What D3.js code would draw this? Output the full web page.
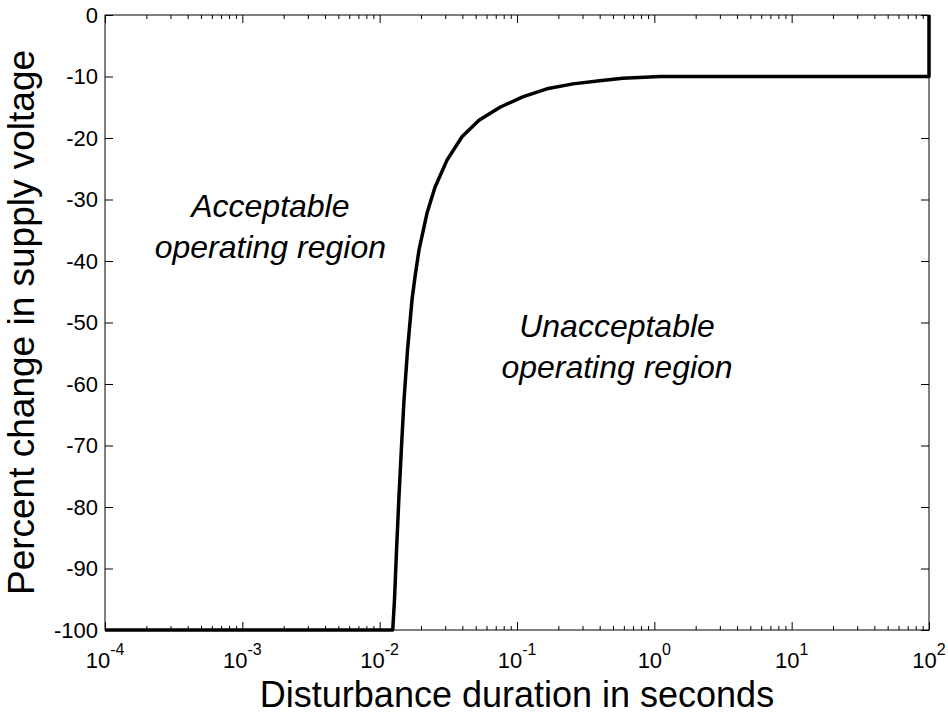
<!DOCTYPE html>
<html lang="en">
<head>
  <meta charset="UTF-8">
  <title>Voltage tolerance curve</title>
  <style>
    body, html {
      margin: 0;
      padding: 0;
      background: #fff;
    }
    svg text {
      font-family: Arial, "Liberation Sans", Helvetica, sans-serif;
      fill: #000;
    }
  </style>
</head>
<body>
  <svg id="svg" width="948" height="714"></svg>
  <script src="https://d3js.org/d3.v7.min.js"></script>
  <script>
    // curve: duration (s) vs percent change in voltage
    const durations = [1e-4, 0.01245, 0.01282, 0.01327, 0.01378, 0.01438, 0.01504, 0.01595, 0.0172, 0.01808,
      0.01934, 0.02212, 0.02529, 0.03093, 0.03977, 0.05289, 0.0752, 0.11, 0.165, 0.256, 0.40, 0.59, 1.1, 100, 100]
    const voltageChange = [-100, -100, -95.1, -87, -78.9, -70.7, -62.6, -54.5, -46.3, -42.6,
      -38.2, -32.2, -28, -23.6, -19.8, -17.1, -15, -13.3, -12, -11.2, -10.7, -10.3, -10, -10, 0]

    const xMajorTicks = [1e-4, 1e-3, 1e-2, 1e-1, 1, 10, 100]
    const xTickExponents = ['-4', '-3', '-2', '-1', '0', '1', '2']
    const yTicks = [0, -10, -20, -30, -40, -50, -60, -70, -80, -90, -100]

    const regionLabels = [
      { lines: ['Acceptable', 'operating region'], x: 1.6e-3, y: -32.8 },
      { lines: ['Unacceptable', 'operating region'], x: 0.535, y: -52.4 }
    ]

    const xTitle = 'Disturbance duration in seconds'
    const yTitle = 'Percent change in supply voltage'

    const margin = { left: 105, right: 19, top: 15, bottom: 84 }
    const width = 948
    const height = 714
    const innerW = width - margin.left - margin.right
    const innerH = height - margin.top - margin.bottom

    const svg = d3.select('#svg')
    const g = svg.append('g').attr('transform', `translate(${margin.left},${margin.top})`)

    const x = d3.scaleLog().domain([1e-4, 100]).range([0, innerW])
    const y = d3.scaleLinear().domain([-100, 0]).range([innerH, 0])

    // minor log ticks 2..9 per decade
    const xMinorTicks = []
    for (let e = -4; e < 2; e++) {
      for (let m = 2; m <= 9; m++) xMinorTicks.push(m * Math.pow(10, e))
    }

    // frame
    g.append('rect')
      .attr('width', innerW)
      .attr('height', innerH)
      .attr('fill', 'none')
      .attr('stroke', '#000')
      .attr('stroke-width', 1)

    function styleAxis(sel) {
      sel.select('.domain').remove()
      sel.selectAll('line').attr('stroke', '#000').attr('stroke-width', 1)
      sel.selectAll('text').remove()
    }

    // inward ticks on all four sides
    g.append('g').attr('transform', `translate(0,${innerH})`)
      .call(d3.axisBottom(x).tickValues(xMajorTicks).tickSize(-8)).call(styleAxis)
    g.append('g').attr('transform', `translate(0,${innerH})`)
      .call(d3.axisBottom(x).tickValues(xMinorTicks).tickSize(-4)).call(styleAxis)
    g.append('g')
      .call(d3.axisTop(x).tickValues(xMajorTicks).tickSize(-8)).call(styleAxis)
    g.append('g')
      .call(d3.axisTop(x).tickValues(xMinorTicks).tickSize(-4)).call(styleAxis)
    g.append('g')
      .call(d3.axisLeft(y).tickValues(yTicks).tickSize(-8)).call(styleAxis)
    g.append('g').attr('transform', `translate(${innerW},0)`)
      .call(d3.axisRight(y).tickValues(yTicks).tickSize(-8)).call(styleAxis)

    // y tick labels
    g.selectAll('.ylab')
      .data(yTicks)
      .join('text')
      .attr('class', 'ylab')
      .attr('x', -7)
      .attr('y', d => y(d))
      .attr('dy', '0.35em')
      .attr('text-anchor', 'end')
      .attr('font-size', 22)
      .text(d => d)

    // x tick labels as 10^n
    const xl = g.selectAll('.xlab')
      .data(xMajorTicks)
      .join('text')
      .attr('class', 'xlab')
      .attr('x', d => x(d))
      .attr('y', innerH + 38)
      .attr('text-anchor', 'middle')
      .attr('font-size', 22)
    xl.append('tspan').text('10')
    xl.append('tspan')
      .attr('dy', -13)
      .attr('font-size', 16)
      .text((d, i) => xTickExponents[i])

    // the curve
    const line = d3.line()
      .x(d => x(d[0]))
      .y(d => y(d[1]))
    g.append('path')
      .datum(durations.map((d, i) => [d, voltageChange[i]]))
      .attr('d', line)
      .attr('fill', 'none')
      .attr('stroke', '#000')
      .attr('stroke-width', 3.5)
      .attr('stroke-linejoin', 'round')

    // region labels
    regionLabels.forEach(r => {
      const t = g.append('text')
        .attr('x', x(r.x))
        .attr('y', y(r.y))
        .attr('text-anchor', 'middle')
        .attr('font-size', 32)
        .attr('font-style', 'italic')
      r.lines.forEach((l, i) => {
        t.append('tspan')
          .attr('x', x(r.x))
          .attr('dy', i === 0 ? 0 : 41)
          .text(l)
      })
    })

    // axis titles
    svg.append('text')
      .attr('x', margin.left + innerW / 2)
      .attr('y', 707)
      .attr('text-anchor', 'middle')
      .attr('font-size', 36)
      .text(xTitle)

    svg.append('text')
      .attr('transform', `translate(34,${margin.top + innerH / 2}) rotate(-90)`)
      .attr('text-anchor', 'middle')
      .attr('font-size', 37)
      .text(yTitle)
  </script>
</body>
</html>
